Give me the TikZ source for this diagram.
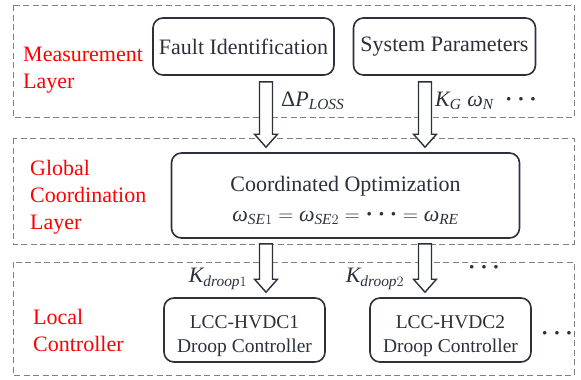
\documentclass[tikz,border=0pt]{standalone}
\usepackage{amsmath}
\usepackage{fontspec}
\setmainfont{Liberation Serif}
\usetikzlibrary{calc}
\definecolor{ink}{HTML}{2B303B}
\newcommand\vi[1]{\textit{#1}}
\newcommand\mdots{\textbf{·}\hspace{0.22em}\textbf{·}\hspace{0.22em}\textbf{·}}
% hollow block arrow from #1 (top) down to tip #2
\newcommand\blockarrow[2]{%
\draw[blockarr] let \p1=(#1), \p2=(#2) in
  (\x1-6.5pt,\y1) -- (\x1-6.5pt,\y2+13pt) -- (\x1-11.5pt,\y2+13pt) -- (\x2,\y2)
  -- (\x1+11.5pt,\y2+13pt) -- (\x1+6.5pt,\y2+13pt) -- (\x1+6.5pt,\y1) -- cycle;}
\begin{document}
\begin{tikzpicture}[x=1pt,y=-1pt,
  box/.style={draw=ink,line width=1.6pt,rounded corners=10pt,text=ink,align=center,inner sep=0pt},
  boxtext/.style={text=ink,align=center,inner sep=0pt},
  layerbox/.style={draw=gray,line width=0.9pt,dash pattern=on 6pt off 3.5pt},
  layername/.style={text=red,align=left,anchor=west,inner sep=0pt,font=\fontsize{22}{27}\selectfont},
  blockarr/.style={draw=ink,line width=1.4pt,fill=white,line join=miter},
  sym/.style={text=ink,inner sep=0pt,font=\fontsize{22}{26}\selectfont}]
\useasboundingbox (0,0) rectangle (581,380);
\foreach \t/\b in {5/117,138/244,262/375} % the three layers
\draw[layerbox] (13,\t) rectangle (574,\b);
\node[layername] (meas) at (23,70.5) {Measurement\\Layer};
\node[layername] (glob) at (30,197) {Global\\Coordination\\Layer};
\node[layername] (loc) at (33,330.5) {Local\\Controller};
% measurement layer
\node[box,minimum width=181pt,minimum height=57pt,font=\fontsize{22}{26}\selectfont] (fault) at (243.5,46.5) {Fault Identification};
\node[box,minimum width=182pt,minimum height=57pt,font=\fontsize{22}{26}\selectfont] (sys) at (444.5,46.5) {System Parameters};
% coordination layer
\node[box,minimum width=348pt,minimum height=85pt] (coord) at (345.5,195.5) {};
\node[boxtext,font=\fontsize{22}{28}\selectfont] (coordtxt) at ([yshift=-5pt]coord.center)
  {Coordinated Optimization\\[2pt]$\vi{ω}_{\vi{SE}1}=\vi{ω}_{\vi{SE}2}=\text{\mdots}=\vi{ω}_{\vi{RE}}$};
% local controllers
\node[box,minimum width=161pt,minimum height=64pt] (lcc1) at (244.5,330) {};
\node[box,minimum width=161pt,minimum height=64pt] (lcc2) at (450.5,330) {};
\foreach \n/\k in {lcc1/1,lcc2/2}
\node[boxtext,font=\fontsize{19.5}{24}\selectfont] (\n txt) at ([yshift=-6pt]\n.center) {LCC-HVDC\k\\Droop Controller};
% arrows
\coordinate (a1top) at ($(266,0 |- fault.south)+(0,6)$);
\coordinate (a1tip) at ($(266,0 |- coord.north)+(0,-5)$);
\coordinate (a2top) at ($(425,0 |- sys.south)+(0,6)$);
\coordinate (a2tip) at ($(425,0 |- coord.north)+(0,-5)$);
\coordinate (a3top) at ($(266,0 |- coord.south)+(0,5)$);
\coordinate (a3tip) at ($(266,0 |- lcc1.north)+(0,-5)$);
\coordinate (a4top) at ($(425,0 |- coord.south)+(0,5)$);
\coordinate (a4tip) at ($(425,0 |- lcc2.north)+(0,-5)$);
\foreach \a/\b in {a1top/a1tip,a2top/a2tip,a3top/a3tip,a4top/a4tip}
\blockarrow{\a}{\b};
\node[sym,anchor=west] (dploss) at (281,101) {$\textup{Δ}\vi{P}_{\vi{LOSS}}$};
\node[sym,anchor=west] (kgwn) at (435,101) {$\vi{K}_{\vi{G}}\;\vi{ω}_{\vi{N}}\;\;$\mdots};
\node[sym] (kd1) at (218,279) {$\vi{K}_{\vi{droop}1}$};
\node[sym] (kd2) at (375,279) {$\vi{K}_{\vi{droop}2}$};
\node[sym] (dots1) at (484,270) {\mdots};
\node[sym] (dots2) at (557,336) {\mdots};
\end{tikzpicture}
\end{document}
